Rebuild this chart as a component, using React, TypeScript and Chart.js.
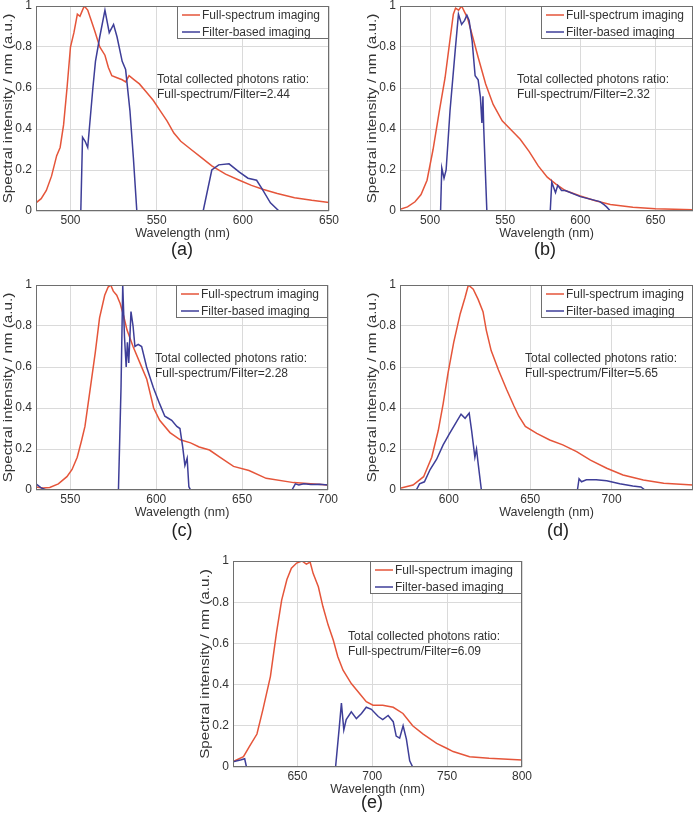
import React, { useEffect, useRef } from "react";
import { Chart, registerables } from "chart.js";

Chart.register(...registerables);

// ---------------- data ----------------
const legendLabels = ["Full-spectrum imaging", "Filter-based imaging"];
const noteTitle = "Total collected photons ratio:";
const ratios = ["2.44", "2.32", "2.28", "5.65", "6.09"];
const panelLetters = ["(a)", "(b)", "(c)", "(d)", "(e)"];
const xTitle = "Wavelength (nm)";
const yTitle = "Spectral intensity / nm (a.u.)";
const yTicks = [0, 0.2, 0.4, 0.6, 0.8, 1];

// (a)
const aTicks = [500, 550, 600, 650];
const aRedX = [480, 483, 486, 489, 492, 494, 496, 498, 500, 502, 504, 505.5, 506.5, 508, 510, 512, 514, 517, 520, 522, 524, 527, 530, 532, 534, 537, 540, 544, 548, 552, 556, 560, 564, 570, 576, 582, 590, 598, 605, 612, 620, 630, 640, 650];
const aRedY = [0.04, 0.06, 0.1, 0.17, 0.27, 0.31, 0.42, 0.6, 0.8, 0.87, 0.96, 0.95, 0.97, 1.0, 0.98, 0.93, 0.88, 0.8, 0.76, 0.7, 0.66, 0.65, 0.64, 0.63, 0.66, 0.64, 0.62, 0.58, 0.54, 0.49, 0.44, 0.38, 0.34, 0.3, 0.26, 0.22, 0.18, 0.15, 0.125, 0.105, 0.085, 0.065, 0.052, 0.042];
const aBlueX = [480, 506, 507, 508.5, 510, 513, 514.5, 517, 520, 522.5, 525, 527, 530, 532, 534.5, 536.5, 538.5, 577, 582, 586, 592, 598, 603, 608, 611, 616, 621, 650];
const aBlueY = [0, 0, 0.36, 0.34, 0.31, 0.6, 0.73, 0.85, 0.98, 0.87, 0.91, 0.85, 0.73, 0.69, 0.49, 0.26, 0, 0, 0.2, 0.225, 0.23, 0.19, 0.16, 0.15, 0.11, 0.04, 0, 0];

// (b)
const bTicks = [500, 550, 600, 650];
const bRedX = [480, 485, 490, 494, 498, 502, 506, 510, 513, 515.5, 517, 519, 521, 523, 525, 528, 532, 537, 542, 548, 554, 560, 566, 572, 578, 584, 590, 600, 610, 620, 635, 650, 675];
const bRedY = [0.008, 0.02, 0.045, 0.08, 0.15, 0.3, 0.48, 0.65, 0.82, 0.96, 0.99, 0.98, 1.0, 0.97, 0.94, 0.86, 0.75, 0.62, 0.52, 0.44, 0.395, 0.35, 0.29, 0.22, 0.165, 0.13, 0.1, 0.073, 0.05, 0.032, 0.018, 0.011, 0.006];
const bBlueX = [480, 507, 507.8, 509.3, 510.7, 513.3, 516.7, 518.9, 521, 523, 524.5, 526, 528, 530, 532, 533.5, 534.5, 535.2, 535.7, 537.8, 580, 581, 583.5, 585, 587.5, 590, 600, 613, 616, 617.5, 620, 675];
const bBlueY = [0, 0, 0.21, 0.16, 0.2, 0.49, 0.78, 0.96, 0.91, 0.93, 0.955, 0.93, 0.83, 0.66, 0.64, 0.556, 0.43, 0.56, 0.41, 0, 0, 0.14, 0.09, 0.125, 0.1, 0.1, 0.07, 0.046, 0.03, 0.02, 0, 0];

// (c)
const cTicks = [550, 600, 650, 700];
const cRedX = [530, 534, 538, 543, 548, 551, 554, 556.5, 558.5, 561.5, 564.5, 567, 570, 572, 573.5, 575, 577, 579, 581, 583, 586.5, 590.5, 594.5, 598.5, 602, 608, 614, 620, 625, 631, 637, 645, 654, 664, 680, 690, 700];
const cRedY = [0.015, 0.01, 0.012, 0.03, 0.065, 0.1, 0.16, 0.24, 0.31, 0.49, 0.67, 0.84, 0.95, 0.99, 1.0, 0.97, 0.95, 0.91, 0.85, 0.78, 0.7, 0.62, 0.54, 0.4, 0.34, 0.28, 0.245, 0.23, 0.21, 0.195, 0.16, 0.115, 0.095, 0.057, 0.036, 0.03, 0.024];
const cBlueX = [530, 533, 536, 578, 579.5, 580.5, 581.5, 582.5, 583.2, 584, 585.3, 586.5, 587.6, 589.5, 591.5, 594.4, 598.3, 602, 605, 607, 609, 612, 613.8, 615.4, 616.7, 618, 619, 620, 679, 681, 683, 686, 690, 695, 700];
const cBlueY = [0.03, 0.01, 0, 0, 0.5, 1.0, 0.75, 0.6, 0.72, 0.62, 0.87, 0.8, 0.7, 0.71, 0.7, 0.6, 0.5, 0.42, 0.36, 0.35, 0.34, 0.31, 0.3, 0.21, 0.12, 0.155, 0.016, 0, 0, 0.03, 0.025, 0.03, 0.027, 0.028, 0.024];

// (d)
const dTicks = [600, 650, 700];
const dRedX = [570, 578, 584.5, 589.5, 593.5, 596.5, 599.5, 603, 607, 610, 612, 615, 618, 621, 623, 626, 630.5, 635.5, 640, 643, 647, 654, 662, 670, 678.5, 687, 697, 707, 719.5, 732, 750];
const dRedY = [0.008, 0.024, 0.065, 0.16, 0.29, 0.42, 0.57, 0.72, 0.86, 0.94, 1.0, 0.98, 0.93, 0.87, 0.78, 0.68, 0.585, 0.49, 0.41, 0.36, 0.31, 0.276, 0.244, 0.22, 0.187, 0.146, 0.106, 0.073, 0.049, 0.033, 0.024];
const dBlueX = [570, 580, 582, 585, 588.5, 592.5, 596.5, 600.5, 604.5, 607.5, 610, 612.5, 614, 616, 617, 618, 620, 679, 680, 681.5, 684.5, 690.5, 697, 705, 713, 718, 720.5, 750];
const dBlueY = [0, 0, 0.03, 0.04, 0.1, 0.15, 0.22, 0.276, 0.33, 0.37, 0.35, 0.375, 0.29, 0.16, 0.2, 0.13, 0, 0, 0.055, 0.04, 0.05, 0.05, 0.045, 0.03, 0.02, 0.015, 0, 0];

// (e)
const eTicks = [650, 700, 750, 800];
const eRedX = [607, 614, 618, 623, 627, 632, 636, 639.5, 643, 646, 649.5, 653, 656, 658.5, 660.5, 664, 667, 670.5, 674, 677, 680.5, 686, 691.5, 696, 700.5, 707, 714, 720.5, 727, 734, 743, 750, 754, 765, 778, 800];
const eRedY = [0.026, 0.05, 0.1, 0.16, 0.28, 0.44, 0.65, 0.81, 0.91, 0.965, 0.99, 1.0, 0.985, 0.995, 0.94, 0.875, 0.78, 0.69, 0.615, 0.535, 0.47, 0.405, 0.357, 0.317, 0.3, 0.3, 0.29, 0.26, 0.2, 0.16, 0.115, 0.09, 0.075, 0.05, 0.042, 0.034];
const eBlueX = [607, 612.5, 614.8, 616, 675.5, 678, 679.4, 681, 682.6, 686, 689.4, 692.8, 696, 699.4, 704, 707, 710.6, 714, 716, 718.3, 720.6, 722.8, 725, 727, 750];
const eBlueY = [0.026, 0.035, 0.04, 0, 0, 0.195, 0.31, 0.18, 0.23, 0.268, 0.235, 0.26, 0.29, 0.28, 0.245, 0.23, 0.25, 0.22, 0.15, 0.14, 0.2, 0.135, 0.03, 0, 0];

// ---------------- styling / layout ----------------
const RED = "#E5553A";
const BLUE = "#3E3E98";
const FONT = "'Liberation Sans', Arial, Helvetica, sans-serif";
const TEXT = "#333333";
const FRAME = "#6e6e6e";
const GRID = "#dadada";
const Y_AXIS_W = 36;
const X_AXIS_H = 30;

type Panel = {
  canvas: { left: number; top: number; width: number; height: number };
  area: { left: number; top: number; right: number; bottom: number };
  xMin: number;
  xMax: number;
  xTicks: number[];
  red: [number[], number[]];
  blue: [number[], number[]];
  note: { dx: number; dy: number };
  ratio: string;
  caption: { x: number; y: number; text: string };
};

const panels: Panel[] = [
  {
    canvas: { left: 0, top: 0, width: 345, height: 250 },
    area: { left: 36, top: 6, right: 329, bottom: 211 },
    xMin: 480, xMax: 650, xTicks: aTicks,
    red: [aRedX, aRedY], blue: [aBlueX, aBlueY],
    note: { dx: 121, dy: 74 }, ratio: ratios[0],
    caption: { x: 182, y: 249, text: panelLetters[0] },
  },
  {
    canvas: { left: 345, top: 0, width: 350, height: 250 },
    area: { left: 400, top: 6, right: 693, bottom: 211 },
    xMin: 480, xMax: 675, xTicks: bTicks,
    red: [bRedX, bRedY], blue: [bBlueX, bBlueY],
    note: { dx: 117, dy: 74 }, ratio: ratios[1],
    caption: { x: 545, y: 249, text: panelLetters[1] },
  },
  {
    canvas: { left: 0, top: 268, width: 345, height: 257 },
    area: { left: 36, top: 285, right: 328, bottom: 490 },
    xMin: 530, xMax: 700, xTicks: cTicks,
    red: [cRedX, cRedY], blue: [cBlueX, cBlueY],
    note: { dx: 119, dy: 74 }, ratio: ratios[2],
    caption: { x: 182, y: 530, text: panelLetters[2] },
  },
  {
    canvas: { left: 345, top: 268, width: 350, height: 257 },
    area: { left: 400, top: 285, right: 693, bottom: 490 },
    xMin: 570, xMax: 750, xTicks: dTicks,
    red: [dRedX, dRedY], blue: [dBlueX, dBlueY],
    note: { dx: 125, dy: 74 }, ratio: ratios[3],
    caption: { x: 558, y: 530, text: panelLetters[3] },
  },
  {
    canvas: { left: 190, top: 548, width: 350, height: 252 },
    area: { left: 233, top: 561, right: 522, bottom: 767 },
    xMin: 607, xMax: 800, xTicks: eTicks,
    red: [eRedX, eRedY], blue: [eBlueX, eBlueY],
    note: { dx: 115, dy: 76 }, ratio: ratios[4],
    caption: { x: 372, y: 802, text: panelLetters[4] },
  },
];

const zip = (xs: number[], ys: number[]) => xs.map((x, i) => ({ x, y: ys[i] }));

const framePlugin = {
  id: "frameBox",
  afterDatasetsDraw(chart: any) {
    const { ctx, chartArea: a } = chart;
    ctx.save();
    ctx.strokeStyle = FRAME;
    ctx.lineWidth = 1;
    ctx.strokeRect(a.left + 0.5, a.top + 0.5, a.right - a.left - 1, a.bottom - a.top - 1);
    ctx.restore();
  },
};

const overlayPlugin = {
  id: "overlayText",
  afterDraw(chart: any) {
    const { ctx, chartArea: a } = chart;
    const opts = chart.options.plugins.overlayText;
    ctx.save();
    // legend box
    const w = 152, h = 33;
    const bx = a.right - w, by = a.top;
    ctx.fillStyle = "#ffffff";
    ctx.fillRect(bx, by, w, h);
    ctx.strokeStyle = FRAME;
    ctx.lineWidth = 1;
    ctx.strokeRect(bx + 0.5, by + 0.5, w - 1, h - 1);
    ctx.font = `12px ${FONT}`;
    ctx.textBaseline = "middle";
    ctx.textAlign = "left";
    chart.data.datasets.forEach((ds: any, i: number) => {
      const yy = by + 9 + i * 17;
      ctx.strokeStyle = ds.borderColor;
      ctx.lineWidth = 1.5;
      ctx.beginPath();
      ctx.moveTo(bx + 5, yy);
      ctx.lineTo(bx + 23, yy);
      ctx.stroke();
      ctx.fillStyle = TEXT;
      ctx.fillText(ds.label, bx + 25, yy + 0.5);
    });
    // ratio note
    ctx.fillStyle = TEXT;
    ctx.fillText(noteTitle, a.left + opts.dx, a.top + opts.dy);
    ctx.fillText(`Full-spectrum/Filter=${opts.ratio}`, a.left + opts.dx, a.top + opts.dy + 15);
    // y axis title (stretched along its length like the source figure)
    ctx.save();
    ctx.translate(a.left - 27, (a.top + a.bottom) / 2);
    ctx.rotate(-Math.PI / 2);
    ctx.scale(1.27, 1);
    ctx.textAlign = "center";
    ctx.textBaseline = "middle";
    ctx.font = `12px ${FONT}`;
    ctx.fillText(yTitle, 0, 0);
    ctx.restore();
    ctx.restore();
  },
};

function PanelChart({ p }: { p: Panel }) {
  const ref = useRef<HTMLCanvasElement | null>(null);
  useEffect(() => {
    if (!ref.current) return;
    const padding = {
      left: p.area.left - Y_AXIS_W - p.canvas.left,
      top: p.area.top - p.canvas.top,
      right: p.canvas.left + p.canvas.width - p.area.right,
      bottom: p.canvas.top + p.canvas.height - p.area.bottom - X_AXIS_H,
    };
    const chart = new Chart(ref.current, {
      type: "line",
      data: {
        datasets: [
          {
            label: legendLabels[0],
            data: zip(p.red[0], p.red[1]),
            borderColor: RED,
            borderWidth: 1.5,
            pointRadius: 0,
            tension: 0,
            order: 2,
          },
          {
            label: legendLabels[1],
            data: zip(p.blue[0], p.blue[1]),
            borderColor: BLUE,
            borderWidth: 1.5,
            pointRadius: 0,
            tension: 0,
            order: 1,
          },
        ],
      },
      options: {
        responsive: false,
        animation: false,
        devicePixelRatio: 1,
        layout: { padding },
        events: [],
        plugins: {
          legend: { display: false },
          tooltip: { enabled: false },
          overlayText: { dx: p.note.dx, dy: p.note.dy, ratio: p.ratio },
        } as any,
        scales: {
          x: {
            type: "linear",
            min: p.xMin,
            max: p.xMax,
            afterBuildTicks: (scale: any) => {
              scale.ticks = p.xTicks.map((v) => ({ value: v }));
            },
            afterFit: (scale: any) => {
              scale.height = X_AXIS_H;
              scale.paddingLeft = 0;
              scale.paddingRight = 0;
            },
            ticks: {
              padding: 2,
              color: TEXT,
              font: { family: FONT, size: 12 },
              maxRotation: 0,
              autoSkip: false,
              callback: (v: any) => String(v),
            },
            grid: { color: GRID, drawTicks: false, lineWidth: 1 },
            border: { display: false },
            title: {
              display: true,
              text: xTitle,
              color: TEXT,
              font: { family: FONT, size: 12.5 },
              padding: { top: 0, bottom: 0 },
            },
          },
          y: {
            type: "linear",
            min: 0,
            max: 1,
            afterBuildTicks: (scale: any) => {
              scale.ticks = yTicks.map((v) => ({ value: v }));
            },
            afterFit: (scale: any) => {
              scale.width = Y_AXIS_W;
              scale.paddingTop = 0;
              scale.paddingBottom = 0;
            },
            ticks: {
              padding: 4,
              color: TEXT,
              font: { family: FONT, size: 12 },
              autoSkip: false,
              callback: (v: any) => String(Number(Number(v).toFixed(1))),
            },
            grid: { color: GRID, drawTicks: false, lineWidth: 1 },
            border: { display: false },
            title: { display: false },
          },
        },
      },
      plugins: [framePlugin, overlayPlugin],
    });
    return () => chart.destroy();
  }, [p]);

  return (
    <canvas
      ref={ref}
      width={p.canvas.width}
      height={p.canvas.height}
      style={{
        position: "absolute",
        left: p.canvas.left,
        top: p.canvas.top,
        width: p.canvas.width,
        height: p.canvas.height,
      }}
    />
  );
}

export default function App() {
  return (
    <div
      style={{
        position: "absolute",
        left: 0,
        top: 0,
        width: 695,
        height: 819,
        background: "#ffffff",
        overflow: "hidden",
      }}
    >
      {panels.map((p, i) => (
        <PanelChart key={i} p={p} />
      ))}
      {panels.map((p, i) => (
        <div
          key={"c" + i}
          style={{
            position: "absolute",
            left: p.caption.x,
            top: p.caption.y,
            transform: "translate(-50%, -50%)",
            fontFamily: FONT,
            fontSize: 18,
            color: "#222",
            lineHeight: 1,
            whiteSpace: "nowrap",
          }}
        >
          {p.caption.text}
        </div>
      ))}
    </div>
  );
}
